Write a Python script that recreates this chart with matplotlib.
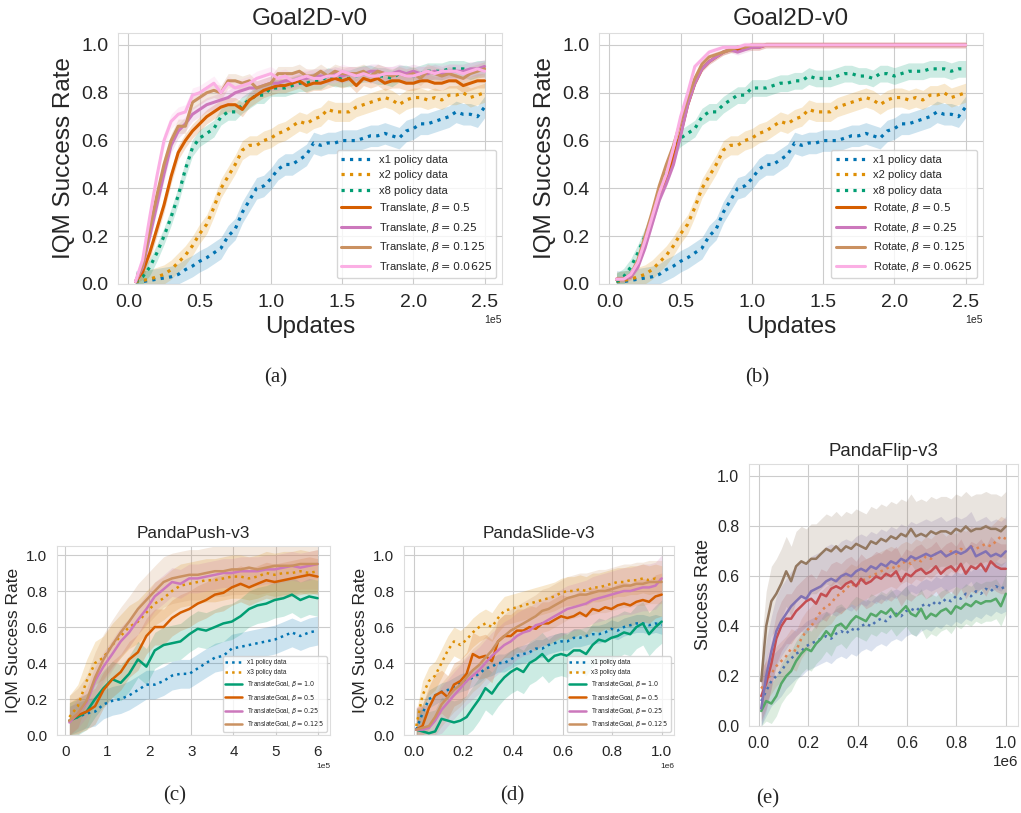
import numpy as np
import matplotlib
matplotlib.use("Agg")
import matplotlib.pyplot as plt
import seaborn as sns

sns.set_style("whitegrid")
plt.rcParams["font.family"] = ["Liberation Sans", "DejaVu Sans"]

# ---------------- data (x in units of the offset: 1e5 / 1e6) ----------------
# Goal2D-v0, shared baselines
goal_x = [0.05, 0.10, 0.15, 0.20, 0.25, 0.30, 0.35, 0.40, 0.45, 0.50,
          0.55, 0.60, 0.65, 0.70, 0.75, 0.80, 0.85, 0.90, 0.95, 1.00,
          1.05, 1.10, 1.15, 1.20, 1.25, 1.30, 1.35, 1.40, 1.45, 1.50,
          1.55, 1.60, 1.65, 1.70, 1.75, 1.80, 1.85, 1.90, 1.95, 2.00,
          2.05, 2.10, 2.15, 2.20, 2.25, 2.30, 2.35, 2.40, 2.45, 2.50]
goal_x1 = [0.01, 0.01, 0.015, 0.02, 0.025, 0.03, 0.04, 0.06, 0.075, 0.095,
           0.11, 0.13, 0.15, 0.20, 0.23, 0.30, 0.35, 0.40, 0.41, 0.44,
           0.48, 0.50, 0.50, 0.52, 0.54, 0.59, 0.58, 0.59, 0.59, 0.60,
           0.60, 0.60, 0.61, 0.62, 0.62, 0.63, 0.62, 0.61, 0.64, 0.65,
           0.67, 0.67, 0.68, 0.69, 0.70, 0.72, 0.71, 0.71, 0.70, 0.74]
goal_x2 = [0.01, 0.015, 0.02, 0.03, 0.04, 0.06, 0.09, 0.12, 0.16, 0.21,
           0.25, 0.32, 0.40, 0.45, 0.50, 0.56, 0.58, 0.58, 0.60, 0.61,
           0.63, 0.64, 0.66, 0.68, 0.67, 0.69, 0.70, 0.73, 0.72, 0.72,
           0.72, 0.74, 0.75, 0.76, 0.77, 0.78, 0.77, 0.75, 0.77, 0.78,
           0.78, 0.77, 0.78, 0.77, 0.79, 0.79, 0.80, 0.78, 0.79, 0.80]
goal_x8 = [0.01, 0.03, 0.07, 0.13, 0.20, 0.28, 0.37, 0.48, 0.57, 0.61,
           0.63, 0.65, 0.70, 0.72, 0.72, 0.75, 0.77, 0.79, 0.79, 0.82,
           0.82, 0.82, 0.83, 0.84, 0.84, 0.85, 0.85, 0.87, 0.86, 0.86,
           0.86, 0.87, 0.88, 0.88, 0.87, 0.87, 0.86, 0.88, 0.88, 0.87,
           0.88, 0.89, 0.89, 0.89, 0.90, 0.90, 0.90, 0.89, 0.90, 0.90]

translate_05 = [0.01, 0.05, 0.13, 0.23, 0.33, 0.45, 0.55, 0.60, 0.64, 0.67,
                0.70, 0.72, 0.74, 0.75, 0.75, 0.73, 0.77, 0.79, 0.81, 0.82,
                0.83, 0.83, 0.84, 0.85, 0.83, 0.84, 0.84, 0.85, 0.86, 0.85,
                0.86, 0.83, 0.86, 0.85, 0.86, 0.84, 0.85, 0.85, 0.84, 0.84,
                0.85, 0.85, 0.84, 0.84, 0.85, 0.85, 0.83, 0.84, 0.85, 0.85]
translate_025 = [0.01, 0.07, 0.20, 0.33, 0.46, 0.58, 0.64, 0.67, 0.71, 0.73,
                 0.75, 0.76, 0.77, 0.78, 0.80, 0.81, 0.82, 0.82, 0.83, 0.84,
                 0.84, 0.85, 0.85, 0.86, 0.86, 0.87, 0.87, 0.87, 0.88, 0.87,
                 0.88, 0.88, 0.88, 0.89, 0.89, 0.88, 0.88, 0.89, 0.88, 0.89,
                 0.88, 0.88, 0.89, 0.88, 0.89, 0.89, 0.89, 0.90, 0.90, 0.91]
translate_0125 = [0.01, 0.08, 0.23, 0.37, 0.50, 0.60, 0.66, 0.66, 0.76, 0.78,
                  0.80, 0.81, 0.80, 0.85, 0.85, 0.84, 0.85, 0.82, 0.83, 0.84,
                  0.88, 0.88, 0.88, 0.89, 0.87, 0.87, 0.89, 0.87, 0.89, 0.88,
                  0.88, 0.88, 0.89, 0.87, 0.89, 0.88, 0.87, 0.88, 0.87, 0.88,
                  0.86, 0.89, 0.88, 0.87, 0.88, 0.87, 0.86, 0.88, 0.89, 0.90]
translate_00625 = [0.01, 0.10, 0.28, 0.45, 0.60, 0.68, 0.71, 0.72, 0.79, 0.80,
                   0.82, 0.84, 0.80, 0.84, 0.82, 0.83, 0.84, 0.86, 0.87, 0.88,
                   0.86, 0.87, 0.85, 0.86, 0.87, 0.86, 0.86, 0.87, 0.87, 0.89,
                   0.88, 0.87, 0.88, 0.87, 0.87, 0.88, 0.88, 0.88, 0.87, 0.87,
                   0.88, 0.89, 0.88, 0.89, 0.89, 0.89, 0.88, 0.89, 0.90, 0.89]

rotate_05 = [0.02, 0.02, 0.03, 0.08, 0.16, 0.27, 0.37, 0.44, 0.53, 0.63,
             0.75, 0.84, 0.90, 0.93, 0.95, 0.97, 0.98, 0.98, 0.99, 0.99,
             0.99, 1.0, 1.0, 1.0, 1.0, 1.0, 1.0, 1.0, 1.0, 1.0,
             1.0, 1.0, 1.0, 1.0, 1.0, 1.0, 1.0, 1.0, 1.0, 1.0,
             1.0, 1.0, 1.0, 1.0, 1.0, 1.0, 1.0, 1.0, 1.0, 1.0]
rotate_025 = [0.02, 0.02, 0.03, 0.07, 0.15, 0.25, 0.35, 0.42, 0.50, 0.62,
              0.75, 0.84, 0.90, 0.93, 0.95, 0.97, 0.98, 0.97, 0.98, 0.99,
              0.99, 1.0, 1.0, 1.0, 1.0, 1.0, 1.0, 1.0, 1.0, 1.0,
              1.0, 1.0, 1.0, 1.0, 1.0, 1.0, 1.0, 1.0, 1.0, 1.0,
              1.0, 1.0, 1.0, 1.0, 1.0, 1.0, 1.0, 1.0, 1.0, 1.0]
rotate_0125 = [0.02, 0.02, 0.04, 0.10, 0.20, 0.30, 0.41, 0.50, 0.58, 0.68,
               0.78, 0.86, 0.92, 0.95, 0.96, 0.97, 0.98, 0.99, 0.99, 1.0,
               1.0, 1.0, 1.0, 1.0, 1.0, 1.0, 1.0, 1.0, 1.0, 1.0,
               1.0, 1.0, 1.0, 1.0, 1.0, 1.0, 1.0, 1.0, 1.0, 1.0,
               1.0, 1.0, 1.0, 1.0, 1.0, 1.0, 1.0, 1.0, 1.0, 1.0]
rotate_00625 = [0.02, 0.02, 0.04, 0.09, 0.18, 0.28, 0.38, 0.46, 0.57, 0.70,
                0.80, 0.91, 0.94, 0.97, 0.98, 0.99, 0.99, 0.99, 1.0, 1.0,
                1.0, 1.0, 1.0, 1.0, 1.0, 1.0, 1.0, 1.0, 1.0, 1.0,
                1.0, 1.0, 1.0, 1.0, 1.0, 1.0, 1.0, 1.0, 1.0, 1.0,
                1.0, 1.0, 1.0, 1.0, 1.0, 1.0, 1.0, 1.0, 1.0, 1.0]

# PandaPush-v3 (x in 1e5)
push_x = [0.10, 0.30, 0.51, 0.71, 0.91, 1.12, 1.32, 1.52, 1.73, 1.93,
          2.13, 2.34, 2.54, 2.74, 2.95, 3.15, 3.35, 3.56, 3.76, 3.96,
          4.17, 4.37, 4.57, 4.78, 4.98, 5.19, 5.39, 5.59, 5.80, 6.00]
push_x1 = [0.08, 0.10, 0.12, 0.13, 0.17, 0.19, 0.20, 0.22, 0.25, 0.28,
           0.28, 0.30, 0.33, 0.34, 0.34, 0.37, 0.40, 0.43, 0.44, 0.48,
           0.49, 0.50, 0.51, 0.52, 0.53, 0.55, 0.57, 0.55, 0.57, 0.58]
push_x3 = [0.10, 0.16, 0.30, 0.40, 0.43, 0.50, 0.55, 0.60, 0.63, 0.68,
           0.73, 0.76, 0.80, 0.83, 0.84, 0.85, 0.86, 0.86, 0.87, 0.88,
           0.88, 0.87, 0.88, 0.90, 0.89, 0.90, 0.90, 0.91, 0.90, 0.91]
push_b10 = [0.08, 0.10, 0.13, 0.20, 0.26, 0.31, 0.29, 0.34, 0.42, 0.38,
            0.47, 0.50, 0.51, 0.52, 0.56, 0.59, 0.58, 0.60, 0.62, 0.63,
            0.66, 0.70, 0.72, 0.73, 0.75, 0.76, 0.78, 0.75, 0.77, 0.76]
push_b05 = [0.08, 0.11, 0.13, 0.16, 0.25, 0.31, 0.35, 0.42, 0.46, 0.55,
            0.60, 0.60, 0.65, 0.68, 0.70, 0.73, 0.75, 0.78, 0.79, 0.82,
            0.84, 0.82, 0.84, 0.86, 0.85, 0.86, 0.87, 0.88, 0.89, 0.88]
push_b025 = [0.07, 0.12, 0.18, 0.30, 0.38, 0.45, 0.52, 0.57, 0.64, 0.70,
             0.77, 0.81, 0.85, 0.84, 0.87, 0.87, 0.88, 0.89, 0.90, 0.90,
             0.91, 0.91, 0.91, 0.92, 0.92, 0.93, 0.94, 0.93, 0.94, 0.95]
push_b0125 = [0.08, 0.12, 0.19, 0.32, 0.42, 0.50, 0.57, 0.63, 0.70, 0.75,
              0.80, 0.85, 0.87, 0.88, 0.89, 0.89, 0.90, 0.91, 0.91, 0.92,
              0.92, 0.93, 0.92, 0.93, 0.94, 0.94, 0.94, 0.95, 0.95, 0.95]

# PandaSlide-v3 (x in 1e6)
slide_x = [0.010, 0.035, 0.061, 0.086, 0.112, 0.137, 0.162, 0.188, 0.213, 0.238,
           0.264, 0.289, 0.315, 0.340, 0.365, 0.391, 0.416, 0.442, 0.467, 0.492,
           0.518, 0.543, 0.568, 0.594, 0.619, 0.645, 0.670, 0.695, 0.721, 0.746,
           0.772, 0.797, 0.822, 0.848, 0.873, 0.898, 0.924, 0.949, 0.975, 1.000]
slide_x1 = [0.03, 0.12, 0.20, 0.22, 0.24, 0.25, 0.27, 0.29, 0.30, 0.32,
            0.34, 0.37, 0.38, 0.40, 0.40, 0.42, 0.44, 0.45, 0.46, 0.48,
            0.48, 0.50, 0.51, 0.52, 0.52, 0.54, 0.54, 0.55, 0.56, 0.56,
            0.57, 0.59, 0.58, 0.60, 0.61, 0.62, 0.62, 0.61, 0.62, 0.61]
slide_x3 = [0.05, 0.22, 0.30, 0.33, 0.40, 0.47, 0.52, 0.50, 0.53, 0.57,
            0.60, 0.62, 0.60, 0.65, 0.69, 0.70, 0.71, 0.72, 0.73, 0.74,
            0.75, 0.76, 0.77, 0.79, 0.80, 0.80, 0.81, 0.80, 0.82, 0.82,
            0.83, 0.84, 0.85, 0.85, 0.86, 0.86, 0.87, 0.86, 0.87, 0.86]
slide_b10 = [0.03, 0.02, 0.01, 0.02, 0.09, 0.08, 0.07, 0.08, 0.10, 0.15,
             0.20, 0.26, 0.23, 0.28, 0.32, 0.35, 0.37, 0.35, 0.40, 0.42,
             0.45, 0.41, 0.44, 0.45, 0.44, 0.47, 0.47, 0.45, 0.50, 0.53,
             0.52, 0.54, 0.55, 0.57, 0.56, 0.60, 0.62, 0.56, 0.60, 0.63]
slide_b05 = [0.03, 0.05, 0.15, 0.22, 0.24, 0.21, 0.28, 0.30, 0.34, 0.45,
             0.43, 0.44, 0.41, 0.52, 0.55, 0.55, 0.58, 0.58, 0.60, 0.59,
             0.62, 0.62, 0.64, 0.66, 0.65, 0.66, 0.68, 0.66, 0.70, 0.69,
             0.71, 0.70, 0.72, 0.73, 0.72, 0.74, 0.75, 0.74, 0.77, 0.78]
slide_b025 = [0.03, 0.03, 0.04, 0.08, 0.14, 0.18, 0.22, 0.26, 0.30, 0.33,
              0.36, 0.40, 0.44, 0.47, 0.50, 0.52, 0.55, 0.57, 0.58, 0.61,
              0.62, 0.64, 0.66, 0.68, 0.70, 0.71, 0.72, 0.73, 0.75, 0.76,
              0.77, 0.78, 0.79, 0.80, 0.80, 0.81, 0.82, 0.82, 0.83, 0.87]
slide_b0125 = [0.03, 0.04, 0.05, 0.10, 0.17, 0.21, 0.25, 0.28, 0.32, 0.36,
               0.39, 0.43, 0.47, 0.52, 0.55, 0.58, 0.60, 0.62, 0.64, 0.66,
               0.69, 0.70, 0.72, 0.74, 0.76, 0.77, 0.78, 0.78, 0.79, 0.80,
               0.80, 0.81, 0.82, 0.83, 0.83, 0.84, 0.84, 0.85, 0.85, 0.85]

# PandaFlip-v3 (x in 1e6)
flip_x = [0.010, 0.030, 0.051, 0.071, 0.091, 0.111, 0.131, 0.151, 0.172, 0.192,
          0.212, 0.232, 0.252, 0.273, 0.293, 0.313, 0.333, 0.353, 0.374, 0.394,
          0.414, 0.434, 0.454, 0.475, 0.495, 0.515, 0.535, 0.556, 0.576, 0.596,
          0.616, 0.636, 0.657, 0.677, 0.697, 0.717, 0.737, 0.758, 0.778, 0.798,
          0.818, 0.838, 0.859, 0.879, 0.899, 0.919, 0.939, 0.960, 0.980, 1.000]
flip_blue = [0.10, 0.14, 0.18, 0.20, 0.22, 0.25, 0.27, 0.29, 0.30, 0.32,
             0.33, 0.34, 0.35, 0.36, 0.35, 0.37, 0.38, 0.37, 0.39, 0.38,
             0.40, 0.41, 0.40, 0.42, 0.43, 0.42, 0.44, 0.45, 0.44, 0.46,
             0.47, 0.46, 0.48, 0.49, 0.48, 0.50, 0.49, 0.51, 0.50, 0.52,
             0.51, 0.53, 0.52, 0.54, 0.53, 0.55, 0.54, 0.56, 0.55, 0.56]
flip_orange = [0.15, 0.18, 0.21, 0.24, 0.26, 0.28, 0.31, 0.30, 0.35, 0.38,
               0.40, 0.43, 0.46, 0.48, 0.49, 0.52, 0.53, 0.55, 0.57, 0.56,
               0.58, 0.59, 0.60, 0.61, 0.62, 0.63, 0.64, 0.63, 0.65, 0.66,
               0.65, 0.67, 0.66, 0.68, 0.67, 0.69, 0.70, 0.68, 0.70, 0.69,
               0.71, 0.70, 0.72, 0.71, 0.72, 0.73, 0.72, 0.74, 0.76, 0.75]
flip_green = [0.06, 0.10, 0.09, 0.12, 0.17, 0.20, 0.22, 0.26, 0.29, 0.31,
              0.30, 0.33, 0.35, 0.38, 0.36, 0.40, 0.41, 0.39, 0.42, 0.44,
              0.43, 0.42, 0.45, 0.44, 0.46, 0.45, 0.47, 0.44, 0.46, 0.48,
              0.45, 0.44, 0.47, 0.43, 0.45, 0.44, 0.46, 0.47, 0.45, 0.48,
              0.47, 0.49, 0.48, 0.50, 0.49, 0.50, 0.50, 0.51, 0.48, 0.53]
flip_red = [0.12, 0.17, 0.25, 0.35, 0.40, 0.43, 0.43, 0.46, 0.48, 0.50,
            0.51, 0.49, 0.53, 0.52, 0.55, 0.56, 0.55, 0.57, 0.58, 0.56,
            0.59, 0.57, 0.58, 0.60, 0.59, 0.61, 0.60, 0.62, 0.58, 0.61,
            0.60, 0.62, 0.63, 0.61, 0.62, 0.64, 0.61, 0.63, 0.64, 0.62,
            0.65, 0.61, 0.64, 0.63, 0.65, 0.62, 0.66, 0.64, 0.63, 0.63]
flip_purple = [0.07, 0.20, 0.30, 0.38, 0.42, 0.45, 0.48, 0.50, 0.52, 0.51,
               0.54, 0.55, 0.56, 0.58, 0.59, 0.58, 0.60, 0.61, 0.60, 0.62,
               0.63, 0.62, 0.64, 0.63, 0.65, 0.64, 0.66, 0.65, 0.67, 0.66,
               0.68, 0.67, 0.68, 0.69, 0.68, 0.69, 0.70, 0.68, 0.69, 0.70,
               0.69, 0.70, 0.72, 0.68, 0.69, 0.70, 0.68, 0.69, 0.68, 0.70]
flip_brown = [0.18, 0.40, 0.50, 0.53, 0.57, 0.62, 0.58, 0.64, 0.66, 0.65,
              0.67, 0.67, 0.69, 0.71, 0.70, 0.72, 0.70, 0.72, 0.71, 0.73,
              0.72, 0.71, 0.74, 0.73, 0.75, 0.74, 0.76, 0.75, 0.77, 0.76,
              0.79, 0.76, 0.77, 0.76, 0.78, 0.77, 0.78, 0.78, 0.77, 0.79,
              0.78, 0.80, 0.78, 0.79, 0.79, 0.80, 0.79, 0.79, 0.78, 0.80]

cb = sns.color_palette("colorblind")
dp = sns.color_palette("deep")


def curve(ax, x, y, scale, color, band, ls="-", lw=2.0, label=None):
    x = np.asarray(x) * scale
    y = np.asarray(y)
    ax.fill_between(x, np.clip(y - band, 0, None), y + band, color=color, alpha=0.2, lw=0)
    ax.plot(x, y, ls=ls, color=color, lw=lw, label=label)


def style(ax, title, ylabel, ticks, scale, tsize, lsize, ksize, osize):
    ax.set_ylim(0, 1.05)
    ax.set_yticks([0, 0.2, 0.4, 0.6, 0.8, 1.0])
    ax.set_xticks(np.asarray(ticks) * scale)
    ax.ticklabel_format(axis="x", style="sci", scilimits=(0, 0))
    ax.set_title(title, fontsize=tsize)
    ax.set_ylabel(ylabel, fontsize=lsize)
    ax.tick_params(labelsize=ksize)
    ax.xaxis.get_offset_text().set_fontsize(osize)
    for s in ax.spines.values():
        s.set_color("#dddddd")


fig = plt.figure(figsize=(10.21, 8.13), dpi=100)

goal_ticks = [0.0, 0.5, 1.0, 1.5, 2.0, 2.5]
push_ticks = [0, 1, 2, 3, 4, 5, 6]
unit_ticks = [0.0, 0.2, 0.4, 0.6, 0.8, 1.0]

# (a) and (b)
ax_a = fig.add_axes([0.1156, 0.6507, 0.3761, 0.3087])
ax_b = fig.add_axes([0.5867, 0.6507, 0.3761, 0.3087])
for ax, kind, lines, bw in [
        (ax_a, "Translate", [translate_05, translate_025, translate_0125, translate_00625], 0.03),
        (ax_b, "Rotate", [rotate_05, rotate_025, rotate_0125, rotate_00625], 0.012)]:
    curve(ax, goal_x, goal_x1, 1e5, cb[0], 0.045, ":", 2.3, "x1 policy data")
    curve(ax, goal_x, goal_x2, 1e5, cb[1], 0.04, ":", 2.3, "x2 policy data")
    curve(ax, goal_x, goal_x8, 1e5, cb[2], 0.035, ":", 2.3, "x8 policy data")
    betas = ["0.5", "0.25", "0.125", "0.0625"]
    cols = [cb[3], cb[4], cb[5], cb[6]]
    for vals, b, c in zip(lines, betas, cols):
        curve(ax, goal_x, vals, 1e5, c, bw, "-", 2.2, kind + r", $\beta = " + b + "$")
    style(ax, "Goal2D-v0", "IQM Success Rate", goal_ticks, 1e5, 17.5, 17.5, 14, 7.5)
    ax.set_xlabel("Updates", fontsize=17.5, labelpad=4)
    ax.legend(loc="lower right", fontsize=8, handlelength=2.6)

# (c) PandaPush and (d) PandaSlide
ax_c = fig.add_axes([0.0558, 0.0959, 0.2674, 0.2325])
ax_d = fig.add_axes([0.3957, 0.0959, 0.2644, 0.2325])
for ax, x, scale, ticks, series, title, band in [
        (ax_c, push_x, 1e5, push_ticks,
         [push_x1, push_x3, push_b10, push_b05, push_b025, push_b0125],
         "PandaPush-v3", [0.08, 0.12, 0.1, 0.1, 0.08, 0.14]),
        (ax_d, slide_x, 1e6, unit_ticks,
         [slide_x1, slide_x3, slide_b10, slide_b05, slide_b025, slide_b0125],
         "PandaSlide-v3", [0.05, 0.08, 0.12, 0.12, 0.13, 0.12])]:
    labels = ["x1 policy data", "x3 policy data",
              r"TranslateGoal, $\beta = 1.0$", r"TranslateGoal, $\beta = 0.5$",
              r"TranslateGoal, $\beta = 0.25$", r"TranslateGoal, $\beta = 0.125$"]
    cols = [cb[0], cb[1], cb[2], cb[3], cb[4], cb[5]]
    styles = [":", ":", "-", "-", "-", "-"]
    for vals, lab, c, ls, b in zip(series, labels, cols, styles, band):
        curve(ax, x, vals, scale, c, b, ls, 1.8, lab)
    style(ax, title, "IQM Success Rate", ticks, scale, 12.4, 12.5, 11, 6)
    ax.legend(loc="lower right", fontsize=4.7, handlelength=2.6)

# (e) PandaFlip
ax_e = fig.add_axes([0.7336, 0.107, 0.2635, 0.3223])
for vals, c, ls, bw in [(flip_blue, dp[0], ":", 0.1), (flip_orange, dp[1], ":", 0.08),
                        (flip_green, dp[2], "-", 0.08), (flip_red, dp[3], "-", 0.1),
                        (flip_purple, dp[4], "-", 0.14), (flip_brown, dp[5], "-", 0.14)]:
    curve(ax_e, flip_x, vals, 1e6, c, bw, ls, 1.8)
style(ax_e, "PandaFlip-v3", "Success Rate", unit_ticks, 1e6, 13.4, 13, 11.4, 11)

# captions
for x, y, t in [(0.270, 0.530, "(a)"), (0.742, 0.530, "(b)"), (0.171, 0.015, "(c)"),
                (0.502, 0.015, "(d)"), (0.752, 0.012, "(e)")]:
    fig.text(x, y, t, family="Liberation Serif", fontsize=15, ha="center")

fig.savefig("out.png", dpi=100)
